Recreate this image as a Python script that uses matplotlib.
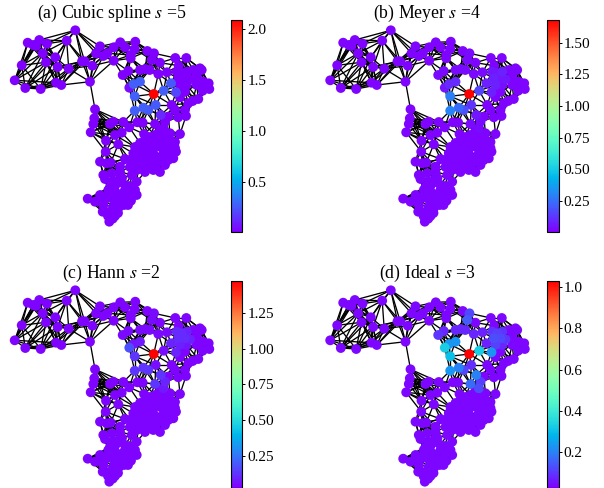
import numpy as np
import matplotlib
matplotlib.use("Agg")
import matplotlib.pyplot as plt
from matplotlib.collections import LineCollection
from matplotlib.cm import ScalarMappable
from matplotlib.colors import Normalize

plt.rcParams['font.family'] = ['Liberation Serif', 'DejaVu Serif']
plt.rcParams['mathtext.fontset'] = 'stix'

# Node positions, hot nodes around the centre first
x_hot = [153.7, 133.7, 140, 134.7, 134.7, 143.3, 148.3, 155.7, 163.7, 171, 176, 160.7, 129.3,
         151.7, 154, 122.7, 128.3, 140, 145.3, 149.7, 158.3, 167, 155, 165, 163.3,
         176.7, 181.7, 186.7, 178.3, 185, 190, 180, 186.7]
y_hot = [94, 84, 81.7, 96.3, 110.7, 107.7, 110, 105, 90.7, 83.3, 92.3, 115, 87.7,
         60, 53.3, 75, 71, 70, 69, 70, 74, 72.3, 124, 121.7, 128.3,
         71.7, 73.3, 71.7, 78.3, 78.3, 79.3, 85, 85]
x_top = [75.3, 27.7, 39.3, 33.3, 36, 47, 66.7, 42.7, 55.3, 46, 21.7, 57.7, 68.7, 14.7, 25.3, 40.7,
         56, 61.3, 82, 84.7, 92.3, 90, 96, 100, 103.3, 107.3, 113.7, 113.7, 120.3, 125, 135.3,
         134.7, 130.7, 130.7, 147.3, 160, 175.3, 186.3, 178.7]
y_top = [30.3, 42.7, 40, 45, 46, 43.7, 40.7, 53.3, 57.3, 62.3, 65.3, 67, 68.7, 80.3, 88, 89,
         82.7, 85, 61.3, 61.3, 65.7, 81.7, 53.3, 46.3, 56, 53.3, 60.7, 47.3, 42.3, 47.3, 41.7,
         49, 55, 58.3, 51, 62.7, 58, 58, 65.7]
x_right = [193.3, 200, 201.7, 196.7, 203.3, 208.7, 209.3, 202.7, 196.7, 198.3, 192.7, 188.3, 185,
           186, 180, 171.7, 175, 178.3, 168.3, 185]
y_right = [70, 68.3, 70, 76.7, 81.7, 83.3, 89, 90.7, 85, 99, 101, 103.3, 110,
           116, 97.3, 105, 110, 117.3, 116.7, 91.7]
x_mid = [95, 94.3, 93.3, 113.3, 110, 123.3, 137.3, 142.7, 129.3, 90.7, 180, 106, 118.3, 105.7, 100,
         110.7, 106.7, 115, 121.7, 144, 125, 120, 120, 111.7, 103.3, 105]
y_mid = [109.3, 118.3, 124, 121.7, 124, 122, 122.3, 122.7, 127.3, 132.3, 134, 140.7, 144.3, 151.7, 161.7,
         162.7, 163.3, 135, 132.7, 134, 159, 166.7, 171.7, 173.3, 175, 179]
x_low = [87.7, 95, 109.3, 112.7, 102.7, 104, 111.7, 118.3, 113.3, 131, 136.7, 133.3, 136.7, 131.7, 138.3,
         153.3, 145, 165, 173.3, 176, 171.7, 170, 158.3, 150, 141.7, 133.3, 130, 141.7, 153.3, 163.3,
         156.7, 120, 113.3, 125, 108.3, 116.7, 123.3, 128.3, 100, 120, 110, 116.7, 103.3, 160, 166.7,
         148.3, 136.7, 138.3, 168.3, 151.7]
y_low = [198.7, 201.7, 221.7, 218.7, 211.7, 200, 198.3, 208.3, 206.7, 200.7, 195, 188.3, 181.7, 175, 169.3,
         170, 166.7, 165, 158.3, 151.7, 145, 133.3, 138.3, 146.7, 148.3, 153.3, 160, 160, 153.3, 153.3,
         163.3, 178.3, 181.7, 185, 190, 193.3, 193.3, 195, 195, 200, 211.7, 203.3, 205, 146.7, 143.3,
         156.7, 155, 165, 160, 141.7]
# the crowded blobs in the lower part, filled in by eye
x_blob = [135, 140, 145, 150, 155, 160, 165, 170, 175, 135, 140, 145, 150, 155, 160, 165, 170,
          130, 135, 145, 150, 155, 160, 145, 150, 155, 160, 165, 170, 175,
          110, 115, 120, 125, 130, 135, 108, 113, 118, 123, 128, 132, 112, 118, 124, 128, 108, 115, 122]
y_blob = [147, 143, 152, 150, 146, 143, 149, 150, 148, 161, 156, 161, 163, 158, 158, 159, 155,
          167, 171, 172, 165, 168, 172, 140, 137, 135, 131, 137, 140, 142,
          187, 186, 182, 190, 186, 190, 196, 191, 196, 198, 190, 196, 213, 213, 205, 205, 216, 216, 178]

# Values of the hot nodes, per panel
values_a = [2.08, .27, .27, .27, .27, .27, .25, .25, .27, .25, .2, .12, .05, .02, .02, .02, .02, .02,
            .02, .02, .02, .02, .02, .02, .02, .02, .02, .02, .02, .02, .02, .02, .02]
values_b = [1.68, .1, .1, .29, .3, .24, .18, .12, .16, .08, .08, .06, .06, .03, .03, .03, .03, .03,
            .03, .03, .03, .03, .03, .03, .03, .06, .06, .08, .08, .06, .06, .08, .04]
values_c = [1.47, .07, .08, .13, .13, .13, .13, .06, .06, .1, .1, .13, .18, .05, .05, .05, .05, .05,
            .05, .05, .05, .05, .13, .1, .08, .11, .11, .09, .11, .11, .09, .09, .07]
values_d = [1.03, .23, .23, .3, .23, .2, .12, .09, .33, .07, .23, .2, .33, .15, .12, .1, .08, .08,
            .08, .08, .08, .07, .17, .11, .13, .1, .11, .1, .13, .12, .1, .11, .08]
base_values = [.02, .02, .04, .04]

titles = ["(a) Cubic spline $s$ =5", "(b) Meyer $s$ =4", "(c) Hann $s$ =2", "(d) Ideal $s$ =3"]
vmins = [.013, .01, .033, .03]
vmaxs = [2.084, 1.68, 1.47, 1.03]
ticks = [[.5, 1.0, 1.5, 2.0],
         [.25, .5, .75, 1.0, 1.25, 1.5],
         [.25, .5, .75, 1.0, 1.25],
         [.2, .4, .6, .8, 1.0]]
tick_fmt = ["%.1f", "%.2f", "%.2f", "%.1f"]
all_values = [values_a, values_b, values_c, values_d]

x = np.array(x_hot + x_top + x_right + x_mid + x_low + x_blob)
y = np.array(y_hot + y_top + y_right + y_mid + y_low + y_blob)
pts = np.column_stack([x, y])

# graph edges: each node joined to its nearest neighbours
k = 9
dist = np.linalg.norm(pts[:, None] - pts[None, :], axis=2)
edges = set()
for i in range(len(pts)):
    for j in np.argsort(dist[i])[1:k + 1]:
        edges.add((min(i, j), max(i, j)))
segments = [(pts[i], pts[j]) for i, j in edges]

W, H = 604, 488
fig = plt.figure(figsize=(W / 100, H / 100), dpi=100)

for p in range(4):
    left = 0 if p % 2 == 0 else 315.5
    top = 0 if p < 2 else 260
    ax = fig.add_axes([left / W, 1 - (top + 226) / H, 223 / W, 202 / H])
    ax.add_collection(LineCollection(segments, colors='k', linewidths=0.95, zorder=1))
    vals = np.full(len(pts), base_values[p])
    vals[:len(all_values[p])] = all_values[p]
    order = np.argsort(vals)
    ax.scatter(x[order], y[order], c=vals[order], cmap='rainbow', vmin=vmins[p], vmax=vmaxs[p],
               s=50, linewidths=0, zorder=2, clip_on=False)
    ax.set_xlim(0, 223)
    ax.set_ylim(226, 24)
    ax.axis('off')
    ax.set_title(titles[p], fontsize=12.8, pad=2.5)

    cax_top = 20 if p < 2 else 281
    cax_h = 211.5 if p < 2 else 206.5
    cax_left = 231 if p % 2 == 0 else 547.3
    cax = fig.add_axes([cax_left / W, 1 - (cax_top + cax_h) / H, 11.4 / W, cax_h / H])
    sm = ScalarMappable(norm=Normalize(vmins[p], vmaxs[p]), cmap='rainbow')
    cb = fig.colorbar(sm, cax=cax, ticks=ticks[p], format=tick_fmt[p])
    cb.ax.tick_params(labelsize=11, length=2, width=0.7, pad=1.5)
    cb.outline.set_linewidth(0.8)

fig.savefig("out.png", dpi=100)
